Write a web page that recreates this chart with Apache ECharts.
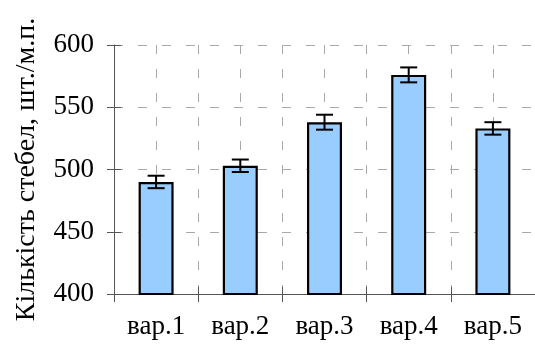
<!DOCTYPE html>
<html>
<head>
<meta charset="utf-8">
<script src="https://cdn.jsdelivr.net/npm/echarts@6/dist/echarts.min.js"></script>
<style>
html,body{margin:0;padding:0;background:#fff;}
#chart{width:535px;height:347px;}
</style>
</head>
<body>
<div id="chart"></div>
<script>
// Data
var categories = ['вар.1', 'вар.2', 'вар.3', 'вар.4', 'вар.5'];
var values = [490, 503, 538, 576, 533];
var errors = [5, 5, 6, 6, 5];
var yTicks = [400, 450, 500, 550, 600];
var yTitle = 'Кількість стебел, шт./м.п.';

var FONT = '"Liberation Serif", "DejaVu Serif", "Times New Roman", serif';
var chart = echarts.init(document.getElementById('chart'), null, {renderer: 'canvas'});

var errData = categories.map(function (c, i) { return [i, values[i] - errors[i], values[i] + errors[i]]; });

var option = {
  animation: false,
  backgroundColor: '#fff',
  grid: {left: 114, right: -3, top: 45, bottom: 53, containLabel: false},
  xAxis: [
    {
      type: 'category', data: categories, position: 'bottom',
      axisLine: {show: true, lineStyle: {color: '#555', width: 1}},
      axisTick: {show: true, inside: false, length: 8, lineStyle: {color: '#555'}},
      axisLabel: {color: '#000', fontFamily: FONT, fontSize: 27, margin: 19},
      splitLine: {show: false}
    },
    {
      type: 'category', data: categories, position: 'bottom',
      axisLine: {show: false},
      axisTick: {show: true, inside: true, length: 7, lineStyle: {color: '#555'}},
      axisLabel: {show: false},
      splitLine: {show: false}
    },
    {
      type: 'value', min: 0, max: 10, interval: 1, position: 'bottom',
      axisLine: {show: false}, axisTick: {show: false}, axisLabel: {show: false},
      splitLine: {show: true, lineStyle: {color: '#aaa', type: [9, 15], width: 1}}
    }
  ],
  yAxis: [
    {
      type: 'value', min: yTicks[0], max: yTicks[yTicks.length - 1], interval: yTicks[1] - yTicks[0],
      position: 'left',
      name: yTitle, nameLocation: 'middle', nameGap: 73, nameRotate: 90,
      nameTextStyle: {color: '#000', fontFamily: FONT, fontSize: 28},
      axisLine: {show: true, lineStyle: {color: '#555', width: 1}},
      axisTick: {show: true, inside: false, length: 7, lineStyle: {color: '#555'}},
      axisLabel: {color: '#000', fontFamily: FONT, fontSize: 27, margin: 20},
      splitLine: {show: true, lineStyle: {color: '#aaa', type: [9, 15], width: 1}}
    },
    {
      type: 'value', min: yTicks[0], max: yTicks[yTicks.length - 1], interval: yTicks[1] - yTicks[0],
      position: 'left', offset: 0,
      axisLine: {show: false},
      axisTick: {show: true, inside: true, length: 7, lineStyle: {color: '#555'}},
      axisLabel: {show: false},
      splitLine: {show: false}
    }
  ],
  series: [
    {
      type: 'bar', data: values, xAxisIndex: 0, yAxisIndex: 0,
      barWidth: 35,
      itemStyle: {color: '#99ccff', borderColor: '#000', borderWidth: 2.2},
      z: 3
    },
    {
      type: 'custom', xAxisIndex: 0, yAxisIndex: 0, data: errData, z: 4,
      renderItem: function (params, api) {
        var x = api.value(0);
        var lo = api.coord([x, api.value(1)]);
        var hi = api.coord([x, api.value(2)]);
        var hw = 8.5;
        var st = {stroke: '#000', lineWidth: 2};
        return {
          type: 'group',
          children: [
            {type: 'line', shape: {x1: lo[0], y1: lo[1], x2: hi[0], y2: hi[1]}, style: st},
            {type: 'line', shape: {x1: lo[0] - hw, y1: lo[1], x2: lo[0] + hw, y2: lo[1]}, style: st},
            {type: 'line', shape: {x1: hi[0] - hw, y1: hi[1], x2: hi[0] + hw, y2: hi[1]}, style: st}
          ]
        };
      }
    }
  ]
};
chart.setOption(option);
</script>
</body>
</html>
